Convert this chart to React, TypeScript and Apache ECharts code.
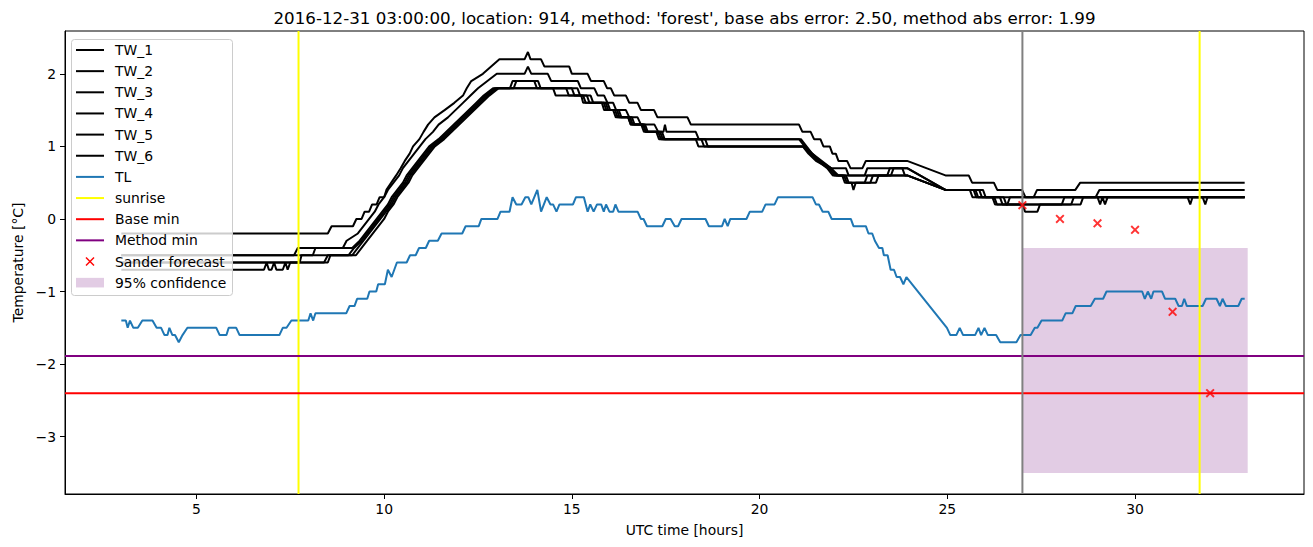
import { useEffect, useRef } from 'react';
import * as echarts from 'echarts';

// ---------- data ----------
const TW_1: [number, number][] = [[3,-0.2],[8.5,-0.2],[8.6,-0.1],[9.17,-0.1],[9.26,0.0],[9.4,0.0],[9.48,0.1],[9.6,0.1],[9.68,0.2],[9.8,0.2],[9.88,0.3],[10.0,0.3],[10.06,0.4],[10.19,0.5],[10.32,0.6],[10.44,0.7],[10.55,0.8],[10.68,0.9],[10.77,1.0],[10.94,1.1],[11.05,1.2],[11.17,1.3],[11.34,1.4],[11.61,1.5],[11.87,1.6],[12.1,1.7],[12.2,1.8],[12.32,1.9],[12.63,2.0],[12.85,2.1],[13.07,2.2],[13.74,2.2],[13.83,2.3],[13.9,2.2],[14.18,2.2],[14.27,2.1],[14.93,2.1],[15.0,2.0],[15.42,2.0],[15.51,1.9],[15.85,1.9],[15.94,1.8],[16.04,1.8],[16.13,1.7],[16.44,1.7],[16.53,1.6],[16.75,1.6],[16.84,1.5],[17.19,1.5],[17.28,1.4],[18.08,1.4],[18.17,1.3],[21.05,1.3],[21.14,1.2],[21.36,1.2],[21.45,1.1],[21.62,1.1],[21.7,1.0],[21.87,1.0],[21.94,0.9],[22.03,0.9],[22.1,0.8],[22.33,0.8],[22.42,0.7],[22.74,0.7],[22.83,0.8],[23.93,0.8],[24.95,0.6],[25.57,0.6],[25.66,0.5],[26.24,0.5],[26.33,0.4],[26.99,0.4],[27.08,0.3],[27.3,0.3],[27.39,0.4],[28.41,0.4],[28.54,0.5],[32.92,0.5]];
const TW_2: [number, number][] = [[3,-0.5],[7.6,-0.5],[7.7,-0.4],[8.9,-0.4],[9.0,-0.3],[9.3,-0.2],[9.45,-0.1],[9.6,0.0],[9.75,0.1],[9.85,0.2],[10.0,0.3],[10.1,0.4],[10.25,0.5],[10.4,0.6],[10.5,0.7],[10.65,0.8],[10.8,0.9],[10.95,1.0],[11.1,1.1],[11.3,1.2],[11.45,1.3],[11.7,1.4],[11.9,1.5],[12.1,1.6],[12.3,1.7],[12.5,1.8],[12.75,1.9],[13.0,2.0],[13.74,2.0],[13.83,2.1],[13.92,2.0],[14.36,2.0],[14.45,1.9],[15.16,1.9],[15.24,1.8],[15.6,1.8],[15.69,1.7],[15.86,1.7],[15.95,1.6],[16.1,1.6],[16.18,1.5],[16.44,1.5],[16.53,1.4],[16.75,1.4],[16.84,1.3],[17.2,1.3],[17.3,1.2],[17.44,1.2],[17.48,1.3],[17.52,1.2],[18.3,1.2],[18.38,1.1],[21.05,1.1],[21.2,1.0],[21.4,0.9],[21.65,0.8],[21.9,0.7],[22.3,0.7],[22.37,0.6],[22.8,0.6],[22.87,0.7],[23.93,0.7],[24.95,0.4],[25.7,0.4],[25.77,0.3],[28.95,0.3],[29.05,0.4],[32.92,0.4]];
const TW_3: [number, number][] = [[3,-0.5],[8.1,-0.5],[8.17,-0.4],[9.15,-0.4],[9.35,-0.3],[9.5,-0.2],[9.65,-0.1],[9.8,0.0],[9.95,0.1],[10.1,0.2],[10.2,0.3],[10.35,0.4],[10.5,0.5],[10.6,0.6],[10.75,0.7],[10.9,0.8],[11.05,0.9],[11.2,1.0],[11.45,1.1],[11.65,1.2],[11.85,1.3],[12.05,1.4],[12.25,1.5],[12.45,1.6],[12.65,1.7],[12.9,1.8],[13.35,1.8],[13.42,1.9],[14.1,1.9],[14.17,1.8],[14.5,1.8],[14.57,1.7],[15.25,1.7],[15.3,1.6],[15.8,1.6],[15.86,1.5],[16.1,1.5],[16.17,1.4],[16.5,1.4],[16.57,1.3],[16.85,1.3],[16.92,1.2],[17.3,1.2],[17.37,1.1],[21.1,1.1],[21.25,1.0],[21.4,0.9],[21.55,0.8],[21.8,0.7],[21.95,0.6],[22.2,0.6],[22.27,0.5],[22.8,0.5],[22.87,0.6],[23.4,0.6],[23.47,0.7],[23.93,0.7],[24.95,0.4],[25.75,0.4],[25.82,0.3],[26.25,0.3],[26.32,0.2],[27.0,0.2],[27.07,0.1],[27.4,0.1],[27.47,0.2],[28.05,0.2],[28.12,0.3],[32.92,0.3]];
const TW_4: [number, number][] = [[3,-0.6],[7.75,-0.6],[7.8,-0.5],[9.05,-0.5],[9.2,-0.4],[9.4,-0.3],[9.55,-0.2],[9.7,-0.1],[9.85,0.0],[10.0,0.1],[10.15,0.2],[10.25,0.3],[10.4,0.4],[10.55,0.5],[10.65,0.6],[10.8,0.7],[10.95,0.8],[11.1,0.9],[11.25,1.0],[11.5,1.1],[11.7,1.2],[11.9,1.3],[12.1,1.4],[12.3,1.5],[12.5,1.6],[12.7,1.7],[12.95,1.8],[13.45,1.8],[13.52,1.9],[14.0,1.9],[14.07,1.8],[15.0,1.8],[15.07,1.7],[15.3,1.7],[15.37,1.6],[15.9,1.6],[15.97,1.5],[16.15,1.5],[16.22,1.4],[16.55,1.4],[16.62,1.3],[16.9,1.3],[16.97,1.2],[17.35,1.2],[17.42,1.1],[18.3,1.1],[18.37,1.0],[21.15,1.0],[21.3,0.9],[21.5,0.8],[21.85,0.7],[22.0,0.6],[22.25,0.6],[22.32,0.5],[22.45,0.5],[22.5,0.4],[22.56,0.5],[22.95,0.5],[23.02,0.6],[23.93,0.6],[24.95,0.4],[25.85,0.4],[25.92,0.3],[26.4,0.3],[26.47,0.2],[28.3,0.2],[28.37,0.3],[32.92,0.3]];
const TW_5: [number, number][] = [[3,-0.6],[8.4,-0.6],[8.5,-0.5],[9.15,-0.5],[9.3,-0.4],[9.45,-0.3],[9.6,-0.2],[9.75,-0.1],[9.9,0.0],[10.05,0.1],[10.2,0.2],[10.3,0.3],[10.45,0.4],[10.6,0.5],[10.7,0.6],[10.85,0.7],[11.0,0.8],[11.15,0.9],[11.3,1.0],[11.55,1.1],[11.75,1.2],[11.95,1.3],[12.15,1.4],[12.35,1.5],[12.55,1.6],[12.75,1.7],[13.0,1.8],[15.15,1.8],[15.22,1.7],[15.5,1.7],[15.57,1.6],[15.95,1.6],[16.02,1.5],[16.2,1.5],[16.27,1.4],[16.6,1.4],[16.67,1.3],[16.95,1.3],[17.02,1.2],[17.4,1.2],[17.47,1.1],[18.55,1.1],[18.62,1.0],[21.15,1.0],[21.35,0.9],[21.55,0.8],[21.9,0.7],[22.05,0.6],[22.3,0.6],[22.37,0.5],[23.1,0.5],[23.17,0.6],[23.5,0.6],[23.57,0.7],[23.8,0.7],[23.87,0.6],[23.93,0.6],[24.95,0.4],[25.95,0.4],[26.02,0.3],[26.5,0.3],[26.57,0.2],[28.55,0.2],[28.62,0.3],[29.0,0.3],[29.07,0.2],[29.13,0.3],[29.2,0.2],[29.27,0.3],[32.92,0.3]];
const TW_6: [number, number][] = [[3,-0.7],[6.8,-0.7],[6.87,-0.6],[6.93,-0.7],[7.0,-0.7],[7.07,-0.6],[7.13,-0.7],[7.3,-0.7],[7.37,-0.6],[7.43,-0.7],[7.5,-0.6],[8.5,-0.6],[8.57,-0.5],[9.25,-0.5],[9.4,-0.4],[9.55,-0.3],[9.7,-0.2],[9.85,-0.1],[10.0,0.0],[10.1,0.1],[10.25,0.2],[10.35,0.3],[10.5,0.4],[10.65,0.5],[10.75,0.6],[10.9,0.7],[11.05,0.8],[11.2,0.9],[11.35,1.0],[11.6,1.1],[11.8,1.2],[12.0,1.3],[12.2,1.4],[12.4,1.5],[12.6,1.6],[12.8,1.7],[13.05,1.8],[14.85,1.8],[14.92,1.7],[15.4,1.7],[15.47,1.6],[15.85,1.6],[15.92,1.5],[16.25,1.5],[16.32,1.4],[16.5,1.4],[16.57,1.3],[16.9,1.3],[16.97,1.2],[17.25,1.2],[17.32,1.1],[18.45,1.1],[18.52,1.0],[21.2,1.0],[21.4,0.9],[21.6,0.8],[21.9,0.7],[22.1,0.6],[23.93,0.6],[24.95,0.4],[25.6,0.4],[25.67,0.3],[26.2,0.3],[26.27,0.2],[26.6,0.2],[26.67,0.3],[31.4,0.3],[31.47,0.2],[31.53,0.3],[31.8,0.3],[31.87,0.2],[31.93,0.3],[32.92,0.3]];
const TL: [number, number][] = [[3.0,-1.4],[3.12,-1.4],[3.17,-1.5],[3.23,-1.4],[3.32,-1.5],[3.44,-1.5],[3.56,-1.4],[3.83,-1.4],[3.94,-1.5],[4.06,-1.5],[4.15,-1.6],[4.23,-1.6],[4.28,-1.5],[4.36,-1.6],[4.43,-1.6],[4.53,-1.7],[4.63,-1.6],[4.76,-1.5],[5.53,-1.5],[5.62,-1.6],[5.8,-1.6],[5.86,-1.5],[6.06,-1.5],[6.15,-1.6],[7.21,-1.6],[7.3,-1.5],[7.4,-1.5],[7.53,-1.4],[7.98,-1.4],[8.04,-1.3],[8.11,-1.4],[8.17,-1.3],[8.99,-1.3],[9.08,-1.2],[9.21,-1.2],[9.28,-1.1],[9.55,-1.1],[9.61,-1.0],[9.79,-1.0],[9.84,-0.9],[10.02,-0.9],[10.1,-0.7],[10.2,-0.8],[10.34,-0.6],[10.6,-0.6],[10.69,-0.5],[10.84,-0.5],[10.93,-0.4],[11.11,-0.4],[11.2,-0.3],[11.43,-0.3],[11.53,-0.2],[12.08,-0.2],[12.17,-0.1],[12.52,-0.1],[12.59,0.0],[13.02,0.0],[13.1,0.1],[13.34,0.1],[13.42,0.3],[13.52,0.2],[13.66,0.2],[13.76,0.3],[13.84,0.3],[13.92,0.2],[14.08,0.4],[14.18,0.1],[14.33,0.3],[14.43,0.2],[14.5,0.2],[14.59,0.1],[14.67,0.2],[15.03,0.2],[15.11,0.3],[15.32,0.3],[15.42,0.1],[15.49,0.2],[15.58,0.1],[15.67,0.2],[15.78,0.2],[15.85,0.1],[15.91,0.2],[16.0,0.1],[16.1,0.1],[16.16,0.2],[16.24,0.1],[16.75,0.1],[16.84,0.0],[16.91,0.0],[17.0,-0.1],[17.41,-0.1],[17.5,0.0],[17.63,0.0],[17.74,-0.1],[17.83,-0.1],[17.92,0.0],[18.56,0.0],[18.65,-0.1],[19.0,-0.1],[19.07,0.0],[19.15,-0.1],[19.22,0.0],[19.65,0.0],[19.74,0.1],[20.07,0.1],[20.16,0.2],[20.4,0.2],[20.49,0.3],[21.41,0.3],[21.5,0.2],[21.58,0.2],[21.68,0.1],[21.83,0.1],[21.92,0.0],[22.43,0.0],[22.5,-0.1],[22.83,-0.1],[22.9,-0.2],[23.0,-0.2],[23.07,-0.3],[23.18,-0.4],[23.27,-0.4],[23.31,-0.5],[23.41,-0.5],[23.49,-0.7],[23.58,-0.7],[23.65,-0.8],[23.74,-0.8],[23.83,-0.9],[23.91,-0.8],[24.99,-1.5],[25.08,-1.6],[25.24,-1.6],[25.33,-1.5],[25.42,-1.6],[25.74,-1.6],[25.83,-1.5],[25.9,-1.6],[25.99,-1.5],[26.08,-1.6],[26.3,-1.6],[26.41,-1.7],[26.84,-1.7],[26.95,-1.6],[27.22,-1.6],[27.33,-1.5],[27.4,-1.5],[27.51,-1.4],[28.06,-1.4],[28.15,-1.3],[28.33,-1.3],[28.42,-1.2],[28.82,-1.2],[28.93,-1.1],[29.15,-1.1],[29.24,-1.0],[30.19,-1.0],[30.26,-1.1],[30.34,-1.0],[30.43,-1.1],[30.49,-1.0],[30.72,-1.0],[30.8,-1.1],[31.07,-1.1],[31.16,-1.2],[31.25,-1.2],[31.31,-1.1],[31.38,-1.2],[31.8,-1.2],[31.89,-1.1],[32.17,-1.1],[32.26,-1.2],[32.33,-1.1],[32.42,-1.2],[32.75,-1.2],[32.84,-1.1],[32.92,-1.1]];
const SANDER_X = [27, 28, 29, 30, 31, 32];
const SANDER_Y = [0.19, 0.0, -0.06, -0.15, -1.28, -2.4];
const SUNRISE = [7.72, 31.72];
const BASE_MIN = -2.4;
const METHOD_MIN = -1.89;
const FORECAST_START = 27;
const CONF_X = [27, 33];
const CONF_Y = [-3.5, -0.4];
const X_TICKS = [5, 10, 15, 20, 25, 30];
const Y_TICKS = [-3, -2, -1, 0, 1, 2];
const X_RANGE = [1.5, 34.5];
const Y_RANGE = [-3.79, 2.59];
const TW_NAMES = ['TW_1', 'TW_2', 'TW_3', 'TW_4', 'TW_5', 'TW_6'];
const TW_DATA = [TW_1, TW_2, TW_3, TW_4, TW_5, TW_6];
const TITLE = "2016-12-31 03:00:00, location: 914, method: 'forest', base abs error: 2.50, method abs error: 1.99";

const FONT = '"DejaVu Sans", Verdana, sans-serif';
const BAND_COLOR = '#e2cce4';
const X_MARK = 'path://M0,1.5L1.5,0L5,3.5L8.5,0L10,1.5L6.5,5L10,8.5L8.5,10L5,6.5L1.5,10L0,8.5L3.5,5Z';

const LEGEND_ITEMS: { label: string; kind: string; color: string }[] = [
  ...TW_NAMES.map((n) => ({ label: n, kind: 'line', color: '#000000' })),
  { label: 'TL', kind: 'line', color: '#1f77b4' },
  { label: 'sunrise', kind: 'line', color: '#ffff00' },
  { label: 'Base min', kind: 'line', color: '#ff0000' },
  { label: 'Method min', kind: 'line', color: '#800080' },
  { label: 'Sander forecast', kind: 'x', color: '#ff0000' },
  { label: '95% confidence', kind: 'patch', color: BAND_COLOR },
];

function buildLegend() {
  const els: any[] = [];
  els.push({
    type: 'rect', z: 100,
    shape: { x: 71.5, y: 39.5, width: 161, height: 256, r: 3 },
    style: { fill: 'rgba(255,255,255,0.8)', stroke: '#cccccc', lineWidth: 1 },
  });
  LEGEND_ITEMS.forEach((it, i) => {
    const cy = 50 + i * 21.15;
    if (it.kind === 'line') {
      els.push({ type: 'line', z: 101, shape: { x1: 76, y1: cy, x2: 104, y2: cy }, style: { stroke: it.color, lineWidth: 2 } });
    } else if (it.kind === 'x') {
      els.push({ type: 'line', z: 101, shape: { x1: 86, y1: cy - 4, x2: 94, y2: cy + 4 }, style: { stroke: it.color, lineWidth: 1.5 } });
      els.push({ type: 'line', z: 101, shape: { x1: 86, y1: cy + 4, x2: 94, y2: cy - 4 }, style: { stroke: it.color, lineWidth: 1.5 } });
    } else {
      els.push({ type: 'rect', z: 101, shape: { x: 76, y: cy - 4.8, width: 28, height: 9.6 }, style: { fill: it.color } });
    }
    els.push({
      type: 'text', z: 101, x: 115, y: cy,
      style: { text: it.label, fill: '#000', font: `13.9px ${FONT}`, align: 'left', verticalAlign: 'middle' },
    });
  });
  return els;
}

const minus = (v: number) => String(v).replace('-', '\u2212');

export default function App() {
  const ref = useRef<HTMLDivElement>(null);
  useEffect(() => {
    if (!ref.current) return;
    const chart = echarts.init(ref.current, undefined, { renderer: 'svg' });
    const vline = (x: number) => [[x, Y_RANGE[0]], [x, Y_RANGE[1]]];
    const hline = (y: number) => [[X_RANGE[0], y], [X_RANGE[1], y]];
    const lineSeries = (name: string, data: any, color: string, z: number, width = 2) => ({
      name, type: 'line', data, z, showSymbol: false, symbol: 'none', silent: true,
      lineStyle: { color, width }, itemStyle: { color },
    });
    const series: any[] = [
      {
        name: '95% confidence', type: 'custom', z: 1, silent: true,
        data: [[CONF_X[0], CONF_X[1], CONF_Y[0], CONF_Y[1]]],
        renderItem: (_p: any, api: any) => {
          const a = api.coord([api.value(0), api.value(3)]);
          const b = api.coord([api.value(1), api.value(2)]);
          return { type: 'rect', shape: { x: a[0], y: a[1], width: b[0] - a[0], height: b[1] - a[1] }, style: { fill: BAND_COLOR } };
        },
      },
      ...TW_NAMES.map((n, i) => lineSeries(n, TW_DATA[i], '#000000', 2)),
      lineSeries('TL', TL, '#1f77b4', 3),
      lineSeries('sunrise', vline(SUNRISE[0]), '#ffff00', 4),
      lineSeries('sunrise2', vline(SUNRISE[1]), '#ffff00', 4),
      lineSeries('Base min', hline(BASE_MIN), '#ff0000', 4),
      lineSeries('Method min', hline(METHOD_MIN), '#800080', 4),
      lineSeries('forecast start', vline(FORECAST_START), '#808080', 4),
      {
        name: 'Sander forecast', type: 'scatter', z: 5, silent: true,
        data: SANDER_X.map((x, i) => [x, SANDER_Y[i]]),
        symbol: X_MARK, symbolSize: 9, itemStyle: { color: '#ff0000' },
      },
    ];
    chart.setOption({
      animation: false,
      backgroundColor: '#ffffff',
      grid: { left: 65, right: 9, top: 31, bottom: 53, show: true, borderColor: '#000', borderWidth: 1, backgroundColor: 'transparent' },
      xAxis: {
        type: 'value', min: X_RANGE[0], max: X_RANGE[1],
        axisLine: { show: true, onZero: false, lineStyle: { color: '#000', width: 1 } },
        axisTick: { show: true, length: 5, customValues: X_TICKS, lineStyle: { color: '#000' } },
        axisLabel: { customValues: X_TICKS, color: '#000', fontSize: 13.9, fontFamily: FONT, margin: 8 },
        splitLine: { show: false },
        name: 'UTC time [hours]', nameLocation: 'middle', nameGap: 29,
        nameTextStyle: { color: '#000', fontSize: 13.9, fontFamily: FONT },
      },
      yAxis: {
        type: 'value', min: Y_RANGE[0], max: Y_RANGE[1],
        axisLine: { show: true, onZero: false, lineStyle: { color: '#000', width: 1 } },
        axisTick: { show: true, length: 5, customValues: Y_TICKS, lineStyle: { color: '#000' } },
        axisLabel: { customValues: Y_TICKS, color: '#000', fontSize: 13.9, fontFamily: FONT, margin: 9, formatter: (v: number) => minus(v) },
        splitLine: { show: false },
        name: 'Temperature [°C]', nameLocation: 'middle', nameGap: 40,
        nameTextStyle: { color: '#000', fontSize: 13.9, fontFamily: FONT },
      },
      graphic: [
        {
          type: 'text', z: 100, x: 684.5, y: 18,
          style: { text: TITLE, fill: '#000', font: `16.7px ${FONT}`, align: 'center', verticalAlign: 'middle' },
        },
        ...buildLegend(),
      ],
      series,
    });
    return () => chart.dispose();
  }, []);
  return <div ref={ref} style={{ position: 'absolute', left: 0, top: 0, width: 1313, height: 547 }} />;
}
